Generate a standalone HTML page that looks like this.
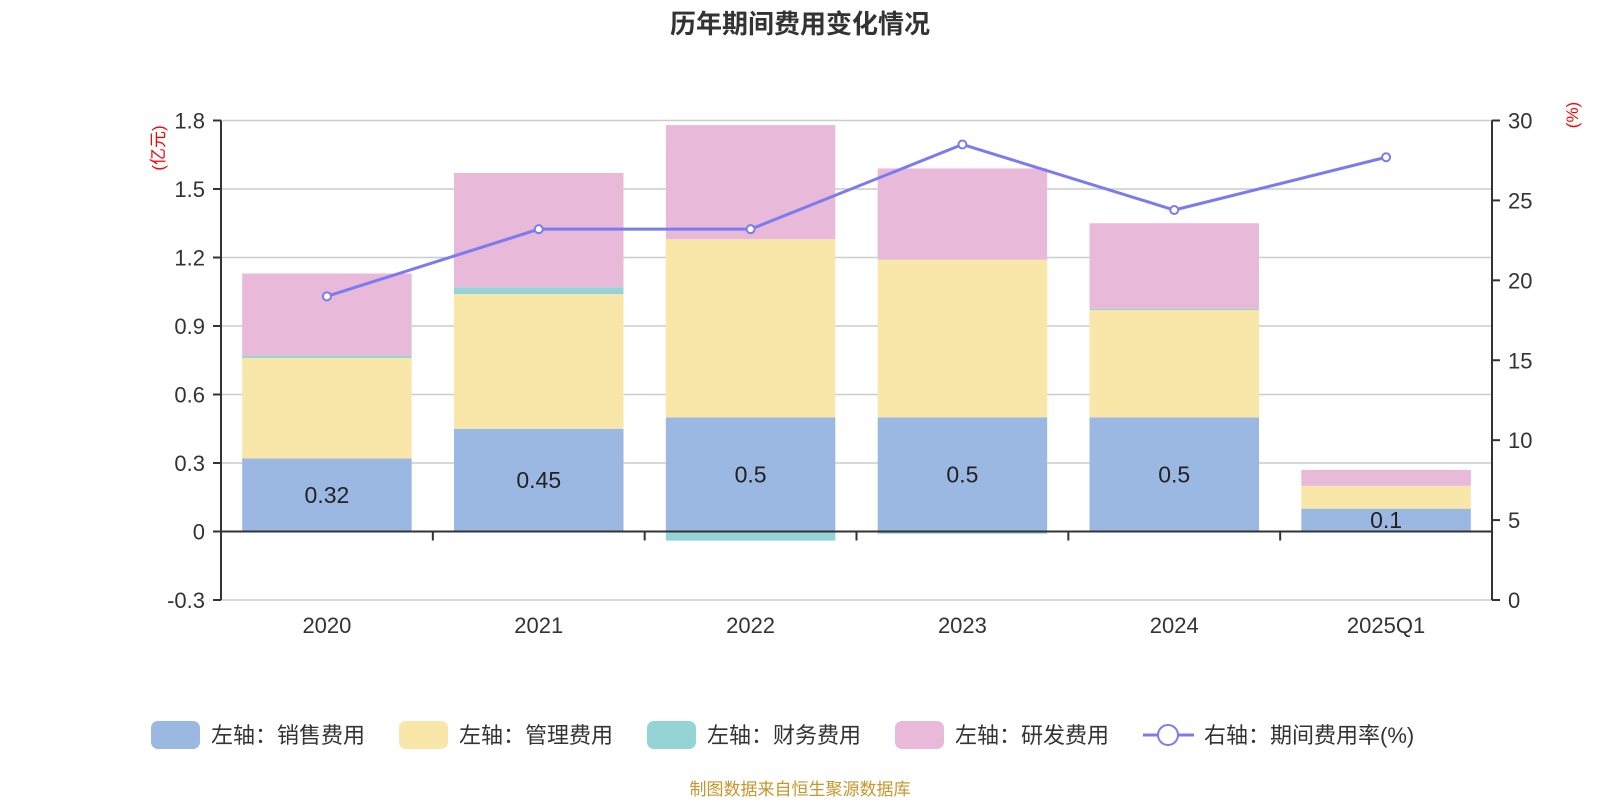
<!DOCTYPE html>
<html><head><meta charset="utf-8"><style>
body{margin:0;background:#fff;width:1600px;height:800px;overflow:hidden}
svg text{font-family:"Liberation Sans","Noto Sans CJK SC",sans-serif}
</style></head><body>
<svg id="c" width="1600" height="800" xmlns="http://www.w3.org/2000/svg">
<text x="800" y="33" text-anchor="middle" font-size="26" font-weight="bold" fill="#333">历年期间费用变化情况</text>
<text transform="translate(164,148) rotate(-90)" text-anchor="middle" font-size="17" fill="#f00">(亿元)</text>
<text transform="translate(1578,115) rotate(-90)" text-anchor="middle" font-size="17" fill="#f00">(%)</text>
<g id="plot"></g>
<g id="legend"></g>
<text x="800" y="795" text-anchor="middle" font-size="17" fill="#c8962a">制图数据来自恒生聚源数据库</text>
</svg>
<script>
const categories=["2020","2021","2022","2023","2024","2025Q1"];
const sales=[0.32,0.45,0.5,0.5,0.5,0.1];
const mgmt=[0.44,0.59,0.78,0.69,0.47,0.10];
const fin=[0.01,0.03,-0.04,-0.01,0.005,0.0];
const rd=[0.36,0.50,0.50,0.40,0.375,0.07];
const rate=[19.0,23.2,23.2,28.5,24.4,27.7];
const leftTicks=[-0.3,0,0.3,0.6,0.9,1.2,1.5,1.8];
const rightTicks=[0,5,10,15,20,25,30];
const NS="http://www.w3.org/2000/svg";
const L=221,R=1492,TOP=120.5,BOT=600,y0=BOT-(BOT-TOP)/2.1*0.3;
const pxPer=(BOT-TOP)/2.1;
const yL=v=>y0-v*pxPer;
const yR=v=>BOT-v*((BOT-TOP)/30);
const bw=(R-L)/categories.length;
const BW=bw*0.8;
const xC=i=>L+bw*(i+0.5);
const g=document.getElementById('plot');
function el(t,a,p){const e=document.createElementNS(NS,t);for(const k in a)e.setAttribute(k,a[k]);(p||g).appendChild(e);return e;}
leftTicks.forEach(t=>{
 const gl=el('line',{x1:L,x2:R,y1:yL(t),y2:yL(t),stroke:'#ccc','stroke-width':1.5});
 
 el('line',{x1:L-8,x2:L,y1:yL(t),y2:yL(t),stroke:'#333','stroke-width':2});
 const tx=el('text',{x:L-16,y:yL(t)+8,'text-anchor':'end','font-size':22,fill:'#333'});tx.textContent=(t===0?'0':t.toFixed(1));
 
});
rightTicks.forEach(t=>{
 el('line',{x1:R,x2:R+8,y1:yR(t),y2:yR(t),stroke:'#333','stroke-width':2});
 const tx=el('text',{x:R+16,y:yR(t)+8,'font-size':22,fill:'#333'});tx.textContent=t;
 
});
const colors={sales:'#9bb8e2',mgmt:'#f8e7a8',fin:'#94d4d4',rd:'#e8b9d9'};
categories.forEach((c,i)=>{
 const x=xC(i)-BW/2,w=BW;
 let pos=0,neg=0;
 [['sales',sales],['mgmt',mgmt],['fin',fin],['rd',rd]].forEach(([k,arr])=>{
  const v=arr[i];let a,b;
  if(v>=0){a=pos;b=pos+v;pos=b;}else{a=neg;b=neg+v;neg=b;}
  const r=el('rect',{x:x,width:w,y:Math.min(yL(a),yL(b)),height:Math.abs(yL(a)-yL(b)),fill:colors[k]});
  
 });
 const lb=el('text',{x:xC(i),y:yL(sales[i]/2)+8,'text-anchor':'middle','font-size':23,fill:'#222'});lb.textContent=sales[i];
 
 const ct=el('text',{x:xC(i),y:633,'text-anchor':'middle','font-size':22,fill:'#333'});ct.textContent=c;
 
});
el('line',{x1:L,x2:L,y1:TOP,y2:BOT,stroke:'#333','stroke-width':2});
el('line',{x1:R,x2:R,y1:TOP,y2:BOT,stroke:'#333','stroke-width':2});
el('line',{x1:L,x2:R,y1:y0,y2:y0,stroke:'#333','stroke-width':2});
for(let i=0;i<=categories.length;i++)el('line',{x1:L+bw*i,x2:L+bw*i,y1:y0,y2:y0+9,stroke:'#333','stroke-width':2});
const pl=el('polyline',{points:rate.map((v,i)=>xC(i)+','+yR(v)).join(' '),fill:'none',stroke:'#7b7bf0','stroke-width':3});

rate.forEach((v,i)=>{const p=el('circle',{cx:xC(i),cy:yR(v),r:4,fill:'#fff',stroke:'#7b7bf0','stroke-width':2});
 });
const lg=document.getElementById('legend');
const items=[['左轴：销售费用',colors.sales,151],['左轴：管理费用',colors.mgmt,399],['左轴：财务费用',colors.fin,647],['左轴：研发费用',colors.rd,895]];
items.forEach(([t,c,x])=>{
 const r=el('rect',{x:x,y:721,width:49,height:28,rx:7,fill:c},lg);
 
 const tx=el('text',{x:x+60,y:743,'font-size':22,fill:'#333'},lg);tx.textContent=t;
 
});
el('line',{x1:1143,x2:1194,y1:735,y2:735,stroke:'#7b7bf0','stroke-width':3},lg);
el('circle',{cx:1168,cy:735,r:10,fill:'#fff',stroke:'#7b7bf0','stroke-width':2},lg);
const lt=el('text',{x:1204,y:743,'font-size':22,fill:'#333'},lg);lt.textContent='右轴：期间费用率(%)';

</script>
</body></html>
